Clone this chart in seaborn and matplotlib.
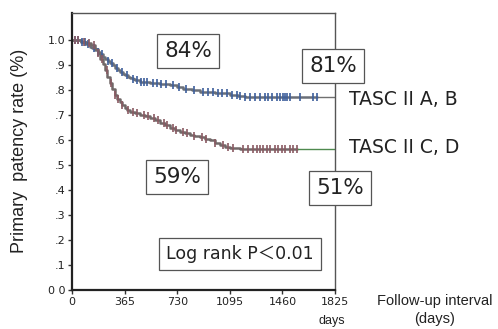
import numpy as np
import pandas as pd
import matplotlib
matplotlib.use("Agg")
import matplotlib.pyplot as plt
import seaborn as sns

# ---- data ----
ab_days = [0, 60, 100, 125, 142, 160, 177, 194, 212, 230, 247, 264, 282, 300, 316,
           333, 352, 370, 386, 403, 420, 440, 472, 505, 541, 610, 680, 730, 770,
           830, 888, 990, 1096, 1150, 1200, 1250, 1825]
ab_surv = [1.0, 0.995, 0.985, 0.975, 0.968, 0.96, 0.952, 0.944, 0.935, 0.925, 0.918,
           0.91, 0.90, 0.89, 0.882, 0.875, 0.867, 0.86, 0.855, 0.85, 0.845, 0.84,
           0.835, 0.832, 0.83, 0.826, 0.822, 0.815, 0.807, 0.80, 0.795, 0.79,
           0.783, 0.778, 0.775, 0.773, 0.773]
cd_days = [0, 60, 100, 130, 160, 178, 195, 212, 229, 246, 264, 281, 298, 315, 333,
           350, 368, 385, 403, 440, 472, 505, 541, 575, 611, 645, 680, 715, 750,
           785, 819, 850, 888, 920, 958, 990, 1027, 1060, 1096, 1130, 1166, 1825]
cd_surv = [1.0, 0.995, 0.99, 0.98, 0.964, 0.95, 0.925, 0.905, 0.88, 0.855, 0.83,
           0.805, 0.78, 0.765, 0.755, 0.742, 0.73, 0.72, 0.715, 0.708, 0.703, 0.697,
           0.69, 0.68, 0.67, 0.66, 0.65, 0.642, 0.635, 0.628, 0.622, 0.618, 0.615,
           0.607, 0.60, 0.59, 0.582, 0.575, 0.57, 0.568, 0.566, 0.566]
ab_cens = [20, 40, 70, 90, 110, 150, 180, 210, 250, 280, 310, 350, 380, 420, 450,
           480, 500, 520, 560, 590, 620, 650, 700, 740, 790, 850, 909, 944, 979,
           1013, 1041, 1076, 1110, 1145, 1166, 1200, 1235, 1270, 1305, 1339, 1360,
           1388, 1423, 1444, 1464, 1478, 1492, 1513, 1582, 1672, 1700]
cd_cens = [20, 45, 80, 120, 150, 180, 210, 240, 270, 300, 320, 350, 390, 420, 450,
           500, 530, 570, 600, 640, 660, 700, 720, 770, 800, 850, 900, 930, 990,
           1050, 1080, 1120, 1187, 1221, 1256, 1284, 1305, 1326, 1353, 1374, 1409,
           1430, 1458, 1478, 1513, 1534, 1561]
x_ticks = [0, 365, 730, 1095, 1460, 1825]
y_ticks = [0.0, 0.1, 0.2, 0.3, 0.4, 0.5, 0.6, 0.7, 0.8, 0.9, 1.0]
y_ticklabels = ["0 0", ".1", ".2", ".3", ".4", ".5", ".6", ".7", ".8", ".9", "1.0"]
pct_labels = ["84%", "81%", "59%", "51%"]
group_labels = ["TASC II A, B", "TASC II C, D"]

sns.set_theme(style="white")
plt.rcParams["font.family"] = ["DejaVu Sans", "Noto Sans CJK JP"]

fig = plt.figure(figsize=(4.98, 3.29), dpi=100)
ax = fig.add_axes([72 / 498, 1 - 290 / 329, 263 / 498, 277 / 329])

def step_val(days, surv, t):
    i = np.searchsorted(days, t, side="right") - 1
    return np.asarray(surv)[i]

def draw(days, surv, cens, line_col, mark_col, tail_col):
    last = cens[-1]
    d = [x for x in days if x <= last] + [last]
    s = [step_val(days, surv, x) for x in d]
    df = pd.DataFrame({"day": d, "surv": s})
    sns.lineplot(data=df, x="day", y="surv", ax=ax, color=line_col, lw=1.8,
                 drawstyle="steps-post", estimator=None, sort=False)
    tail = pd.DataFrame({"day": [last, days[-1]],
                         "surv": [step_val(days, surv, last)] * 2})
    sns.lineplot(data=tail, x="day", y="surv", ax=ax, color=tail_col, lw=1.0,
                 estimator=None, sort=False)
    cdf = pd.DataFrame({"day": cens, "surv": [step_val(days, surv, t) for t in cens]})
    sns.scatterplot(data=cdf, x="day", y="surv", ax=ax, marker="|", s=30,
                    color=mark_col, linewidth=1.2, zorder=3)

draw(ab_days, ab_surv, ab_cens, "#6a6f78", "#3d5f9c", "#707070")
draw(cd_days, cd_surv, cd_cens, "#716868", "#8a5a62", "#4f8a4f")

ax.set_xlim(0, 1825)
ax.set_ylim(0, 1.11)
ax.set_xticks(x_ticks)
ax.set_xticklabels([str(v) for v in x_ticks], fontsize=8, color="#222")
ax.set_yticks(y_ticks)
ax.set_yticklabels(y_ticklabels, fontsize=8, color="#222")
ax.tick_params(axis="both", direction="out", length=3, width=1, color="#333",
               left=True, bottom=True, pad=2)
ax.set_xlabel("")
ax.set_ylabel("")
for side in ["left", "bottom"]:
    ax.spines[side].set_color("#222")
    ax.spines[side].set_linewidth(1.6)
for side in ["top", "right"]:
    ax.spines[side].set_color("#555")
    ax.spines[side].set_linewidth(1.0)

box = dict(boxstyle="square,pad=0.33", fc="white", ec="#555", lw=0.9)
pos = [(188, 51), (333, 66), (177, 177), (340, 188)]
for lab, (px, py) in zip(pct_labels, pos):
    fig.text(px / 498, 1 - py / 329, lab, fontsize=15.5, ha="center", va="center",
             bbox=box, color="#222")
fig.text(240 / 498, 1 - 254 / 329, "Log rank P\uff1c0.01", fontsize=12.5,
         ha="center", va="center", color="#222",
         bbox=dict(boxstyle="square,pad=0.4", fc="white", ec="#555", lw=0.9))
fig.text(349 / 498, 1 - 99 / 329, group_labels[0], fontsize=13.5, ha="left",
         va="center", color="#222")
fig.text(349 / 498, 1 - 148 / 329, group_labels[1], fontsize=13.5, ha="left",
         va="center", color="#222")

fig.text(20 / 498, 1 - 151 / 329, "Primary  patency rate (%)", rotation=90,
         fontsize=13, ha="center", va="center", color="#222",
         family=["Liberation Sans", "DejaVu Sans"])
fig.text(435 / 498, 1 - 301 / 329, "Follow-up interval", fontsize=10.5,
         ha="center", va="center", color="#222", family=["Liberation Sans", "DejaVu Sans"])
fig.text(435 / 498, 1 - 319 / 329, "(days)", fontsize=10.5,
         ha="center", va="center", color="#222", family=["Liberation Sans", "DejaVu Sans"])
fig.text(332 / 498, 1 - 321 / 329, "days", fontsize=9, ha="center", va="center",
         color="#222", family=["Liberation Sans", "DejaVu Sans"])

fig.savefig("out.png", dpi=100, facecolor="white")
